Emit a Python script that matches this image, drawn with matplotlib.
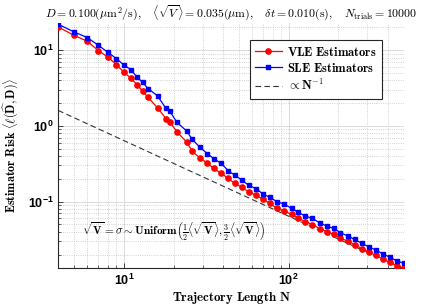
import numpy as np
import matplotlib as mpl
mpl.use('Agg')
import matplotlib.pyplot as plt

rc_fonts = {
    "font.family": "serif",
    "font.serif": ["DejaVu Serif"],
    "mathtext.fontset": "cm",
    "font.size": 9,
}
mpl.rcParams.update(rc_fonts)

# trajectory lengths (unique rounded log-spaced values from 4 to 500)
N = [4, 5, 6, 7, 8, 9, 10, 11, 12, 13, 14, 16, 18, 19, 21, 24, 26, 29, 32, 35,
     39, 43, 47, 52, 57, 63, 70, 77, 85, 94, 104, 114, 126, 139, 154, 170, 187,
     206, 228, 251, 277, 306, 338, 373, 412, 454, 500]

# VLE estimator risk
vle = [20.2, 15.7, 13.1, 9.88, 8.13, 6.46, 5.11, 4.30, 3.52, 2.87, 2.39, 1.73,
       1.25, 1.13, 0.833, 0.615, 0.461, 0.375, 0.325, 0.274, 0.236, 0.202,
       0.174, 0.154, 0.135, 0.122, 0.107, 0.0947, 0.0813, 0.0749, 0.0678,
       0.0605, 0.0545, 0.0497, 0.0441, 0.0402, 0.0369, 0.0330, 0.0299, 0.0271,
       0.0240, 0.0216, 0.0195, 0.0174, 0.0157, 0.0143, 0.01315]

# SLE estimator risk
sle = [22.0, 17.4, 14.7, 11.6, 9.38, 7.75, 6.38, 5.55, 4.43, 3.75, 3.12, 2.49,
       1.70, 1.56, 1.11, 0.859, 0.662, 0.519, 0.432, 0.371, 0.319, 0.255,
       0.224, 0.192, 0.165, 0.149, 0.1256, 0.1136, 0.0994, 0.0927, 0.0813,
       0.0721, 0.0644, 0.0600, 0.0525, 0.0475, 0.0443, 0.0388, 0.0351, 0.0317,
       0.0281, 0.0253, 0.0229, 0.0203, 0.01836, 0.0164, 0.0153]

c_ref = 6.4  # prefactor of the N^-1 reference line

title = (r'$D = 0.100(\mu\mathrm{m}^2/\mathrm{s}),\quad \langle\sqrt{V}\rangle = 0.035(\mu\mathrm{m}),'
         r'\quad \delta t = 0.010(\mathrm{s}),\quad N_{\mathrm{trials}} = 10000$')

fig = plt.figure(figsize=(4.46, 3.05), dpi=100)
ax = fig.add_axes([0.1307, 0.1203, 0.7751, 0.8053])

Nn = np.array(N, dtype=float)
ax.plot(Nn, vle, '-o', color=(1, 0, 0), lw=0.9, ms=3.8, mec=(1, 0, 0), label=r'$\mathbf{VLE\ Estimators}$', zorder=3)
ax.plot(Nn, sle, '-s', color=(0, 0, 1), lw=0.9, ms=3.0, mec=(0, 0, 1), label=r'$\mathbf{SLE\ Estimators}$', zorder=3)
ax.plot(Nn, c_ref / Nn, '--', color=(0.2, 0.2, 0.2), lw=0.8, dashes=(5, 3), label=r'$\propto \mathbf{N}^{-1}$', zorder=2)

ax.set_xscale('log')
ax.set_yscale('log')
ax.set_xlim(min(N), max(N))
ax.set_ylim(min(vle), max(sle) * 1.05)

ax.grid(True, which='major', color=(0.86, 0.86, 0.86), lw=0.7)
ax.grid(True, which='minor', ls=':', color=(0.76, 0.76, 0.76), lw=0.6)
ax.set_axisbelow(True)

for s in ['top', 'right']:
    ax.spines[s].set_visible(False)
for s in ['left', 'bottom']:
    ax.spines[s].set_color((0.15, 0.15, 0.15))
    ax.spines[s].set_linewidth(0.8)

ax.tick_params(which='both', direction='in', color=(0.15, 0.15, 0.15), top=False, right=False)
ax.tick_params(which='major', length=3.5, width=0.6, labelsize=9)
ax.tick_params(which='minor', length=2, width=0.5)
for lab in ax.get_xticklabels() + ax.get_yticklabels():
    lab.set_family('Liberation Sans')
    lab.set_fontweight('bold')

ax.set_xlabel(r'$\mathbf{Trajectory\ Length\ N}$', fontsize=9.3, labelpad=1)
ax.set_ylabel(r'$\mathbf{Estimator\ Risk}\ \langle\ell(\widehat{\mathbf{D}},\mathbf{D})\rangle$', fontsize=8.8, labelpad=5)

fig.text(0.518, 0.96, title, ha='center', va='center', fontsize=8.5)

ax.text(0.07, 0.15, r'$\sqrt{\mathbf{V}} = \sigma \sim \mathbf{Uniform}\left(\frac{1}{2}\langle\sqrt{\mathbf{V}}\rangle,'
        r' \frac{3}{2}\langle\sqrt{\mathbf{V}}\rangle\right)$',
        transform=ax.transAxes, fontsize=8.2, va='center', ha='left')

leg = ax.legend(loc='upper right', bbox_to_anchor=(381.7 / 446, 1 - 40 / 305), bbox_transform=fig.transFigure,
                fancybox=False, framealpha=1, edgecolor=(0.15, 0.15, 0.15), fontsize=9,
                handlelength=2.1, handletextpad=0.4, borderpad=0.45, labelspacing=0.25,
                borderaxespad=0)
leg.get_frame().set_linewidth(0.8)

fig.savefig('out.png', dpi=100)
